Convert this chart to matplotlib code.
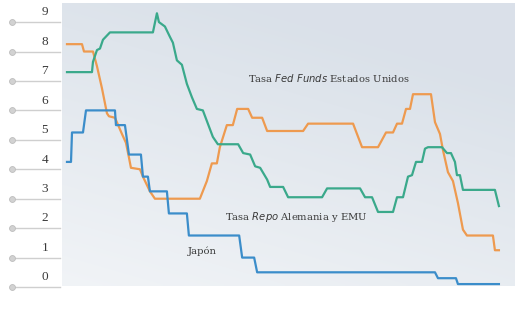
import numpy as np
import matplotlib
matplotlib.use('Agg')
import matplotlib.pyplot as plt
import matplotlib.transforms as mtransforms

# SERIES (decimal year, rate %)
japan_t = [1990.00, 1990.12, 1990.15, 1990.48, 1990.57, 1991.44, 1991.47, 1991.74, 1991.80,
           1991.86, 1992.22, 1992.28, 1992.43, 1992.49, 1993.00, 1993.06, 1993.60, 1993.66,
           1995.17, 1995.26, 1995.62, 1995.71, 2001.05, 2001.14, 2001.68, 2001.74, 2002.97]
japan_v = [4.25, 4.25, 5.25, 5.25, 6.0, 6.0, 5.5, 5.5, 5.0,
           4.5, 4.5, 3.75, 3.75, 3.25, 3.25, 2.5, 2.5, 1.75,
           1.75, 1.0, 1.0, 0.5, 0.5, 0.3, 0.3, 0.1, 0.1]

fed_t = [1990.00, 1990.45, 1990.51, 1990.78, 1990.90, 1991.05, 1991.20, 1991.26, 1991.44,
         1991.65, 1991.77, 1991.86, 1991.92, 1992.19, 1992.28, 1992.49, 1992.64, 1993.99,
         1994.20, 1994.35, 1994.50, 1994.59, 1994.80, 1994.98, 1995.11, 1995.44, 1995.56,
         1995.86, 1996.01, 1997.09, 1997.24, 1998.59, 1998.86, 1999.34, 1999.46, 1999.58,
         1999.79, 1999.91, 2000.06, 2000.18, 2000.30, 2000.39, 2000.93, 2001.05, 2001.20,
         2001.29, 2001.44, 2001.59, 2001.74, 2001.89, 2002.01, 2002.79, 2002.85, 2002.97]
fed_v = [8.25, 8.25, 8.0, 8.0, 7.5, 6.75, 5.9, 5.8, 5.75,
         5.2, 4.9, 4.4, 4.05, 4.0, 3.75, 3.25, 3.0, 3.0,
         3.6, 4.2, 4.2, 4.75, 5.5, 5.5, 6.05, 6.05, 5.75,
         5.75, 5.3, 5.3, 5.55, 5.55, 4.75, 4.75, 5.0, 5.25,
         5.25, 5.55, 5.55, 6.05, 6.05, 6.55, 6.55, 5.6, 5.2,
         4.65, 3.9, 3.6, 2.85, 1.95, 1.75, 1.75, 1.25, 1.25]

repo_t = [1990.00, 1990.75, 1990.78, 1990.90, 1990.99, 1991.08, 1991.29, 1992.58, 1992.70,
          1992.76, 1992.94, 1993.09, 1993.18, 1993.30, 1993.45, 1993.60, 1993.75, 1993.90,
          1994.08, 1994.23, 1994.38, 1994.53, 1995.14, 1995.29, 1995.50, 1995.65, 1995.80,
          1996.01, 1996.10, 1996.49, 1996.64, 1997.66, 1997.81, 1998.80, 1998.95, 1999.16,
          1999.34, 1999.79, 1999.91, 2000.09, 2000.24, 2000.36, 2000.48, 2000.66, 2000.75,
          2000.84, 2001.26, 2001.41, 2001.53, 2001.65, 2001.71, 2001.80, 2001.89, 2002.85,
          2002.97]
repo_v = [7.3, 7.3, 7.65, 8.05, 8.1, 8.4, 8.65, 8.65, 9.3,
          9.0, 8.85, 8.5, 8.3, 7.7, 7.55, 6.9, 6.45, 6.05,
          6.0, 5.55, 5.1, 4.85, 4.85, 4.55, 4.5, 4.1, 4.05,
          3.65, 3.4, 3.4, 3.05, 3.05, 3.35, 3.35, 3.05, 3.05,
          2.55, 2.55, 3.05, 3.05, 3.75, 3.8, 4.25, 4.25, 4.7,
          4.75, 4.75, 4.55, 4.55, 4.25, 3.8, 3.8, 3.3, 3.3,
          2.75]

y_ticks = [0, 1, 2, 3, 4, 5, 6, 7, 8, 9]

# colours
c_fed = '#ee9a4f'
c_repo = '#3aa98b'
c_japan = '#3b8dca'
text_col = '#3a3a3a'

fig = plt.figure(figsize=(5.16, 3.2), dpi=100)
ax = fig.add_axes([0, 0, 1, 1])
ax.set_xlim(1987.988, 2003.483)
ax.set_ylim(-1.12, 9.75)
ax.axis('off')

# background panel with soft gradient
ny, nx = 100, 200
yy, xx = np.mgrid[0:1:ny * 1j, 0:1:nx * 1j]
dark = np.array([0.855, 0.882, 0.914])
light = np.array([0.975, 0.98, 0.985])
w = np.clip(0.75 * (1 - yy) + 0.35 * xx, 0, 1)
w = np.clip(0.25 + 0.85 * w, 0, 1)[..., None]
img = light * (1 - w) + dark * w
ax.imshow(img, extent=[0.120, 0.996, 0.106, 0.9875], transform=ax.transAxes,
          origin='upper', aspect='auto', zorder=0, interpolation='bilinear')

# left-hand tick marks: grey line + dot, number above
trans = mtransforms.blended_transform_factory(ax.transAxes, ax.transData)
for v in y_ticks:
    ax.plot([0.024, 0.116], [v, v], color='#cfcfcf', lw=1, transform=trans, zorder=1)
    ax.scatter([0.024], [v], s=18, color='#d2d2d2', edgecolor='#bdbdbd', linewidth=0.6,
               transform=trans, zorder=2)
    ax.text(0.087, v + 0.33, str(v), transform=trans, ha='center', va='center',
            fontsize=9.5, family='Liberation Serif', color=text_col)

ax.plot(fed_t, fed_v, color=c_fed, lw=1.6, zorder=3)
ax.plot(repo_t, repo_v, color=c_repo, lw=1.6, zorder=3)
ax.plot(japan_t, japan_v, color=c_japan, lw=1.6, zorder=3)

ax.text(1995.43, 7.1, r'Tasa $\it{Fed\ Funds}$ Estados Unidos', fontsize=7.2,
        family='DejaVu Serif', color=text_col, va='center', ha='left')
ax.text(1994.74, 2.37, r'Tasa $\it{Repo}$ Alemania y EMU', fontsize=7.2,
        family='DejaVu Serif', color=text_col, va='center', ha='left')
ax.text(1993.63, 1.22, 'Japón', fontsize=7.2, family='DejaVu Serif', color=text_col,
        va='center', ha='left')

fig.savefig('out.png', dpi=100)
